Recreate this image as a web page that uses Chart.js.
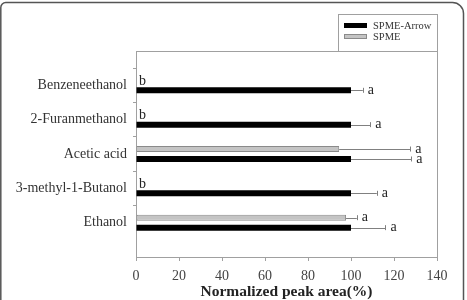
<!DOCTYPE html>
<html>
<head>
<meta charset="utf-8">
<script src="https://cdn.jsdelivr.net/npm/chart.js@4/dist/chart.umd.min.js"></script>
<style>
  html, body { margin: 0; padding: 0; background: #fff; }
  #wrap { width: 467px; height: 300px; position: relative; }
</style>
</head>
<body>
<div id="wrap"><canvas id="peakChart"></canvas></div>
<script>
// categories, top to bottom
const categories = ["Benzeneethanol", "2-Furanmethanol", "Acetic acid", "3-methyl-1-Butanol", "Ethanol"];

// SPME-Arrow (black)
const arrowValues = [100, 100, 100, 100, 100];
const arrowErrors = [5.5, 9, 28, 12, 16];
const arrowLetters = ["a", "a", "a", "a", "a"];

// SPME (grey)
const spmeValues = [0, 0, 94.5, 0, 97.7];
const spmeErrors = [0, 0, 33, 0, 5];
const spmeLetters = ["b", "b", "a", "b", "a"];

const xMin = 0, xMax = 140, xStep = 20;

const serif = "'Liberation Serif', 'Times New Roman', serif";

// blank slots top and bottom give the axis its extra space
const pad = (arr) => [null, ...arr, null];

// rounded frame around the whole figure
const framePlugin = {
  id: "frame",
  beforeDraw(chart) {
    const ctx = chart.ctx;
    ctx.save();
    ctx.strokeStyle = "#555";
    ctx.lineWidth = 1.5;
    const l = 0.8, t = 2.5, r = 463.5, b = 330, rr = 11, rl = 5;
    ctx.beginPath();
    ctx.moveTo(l, b);
    ctx.lineTo(l, t + rl);
    ctx.arcTo(l, t, l + rl, t, rl);
    ctx.lineTo(r - rr, t);
    ctx.arcTo(r, t, r, t + rr, rr);
    ctx.lineTo(r, b);
    ctx.stroke();
    ctx.restore();
  },
};

// plot box, error bars, letters, legend
const extrasPlugin = {
  id: "extras",
  afterDatasetsDraw(chart) {
    const ctx = chart.ctx;
    const area = chart.chartArea;
    const xs = chart.scales.x;
    ctx.save();

    // box round the plot
    ctx.strokeStyle = "#a0a0a0";
    ctx.lineWidth = 1;
    ctx.beginPath();
    ctx.moveTo(Math.round(area.left) + 0.5, Math.round(area.top) + 0.5);
    ctx.lineTo(Math.round(area.right) + 0.5, Math.round(area.top) + 0.5);
    ctx.lineTo(Math.round(area.right) + 0.5, Math.round(area.bottom) + 0.5);
    ctx.stroke();

    const sets = [
      { meta: chart.getDatasetMeta(0), vals: spmeValues, errs: spmeErrors, letters: spmeLetters },
      { meta: chart.getDatasetMeta(1), vals: arrowValues, errs: arrowErrors, letters: arrowLetters },
    ];
    ctx.font = "14px " + serif;
    ctx.textBaseline = "middle";
    ctx.textAlign = "left";
    sets.forEach((s) => {
      s.vals.forEach((v, i) => {
        const bar = s.meta.data[i + 1];
        if (!bar) return;
        const y = bar.y;
        const x0 = xs.getPixelForValue(v);
        const x1 = xs.getPixelForValue(v + s.errs[i]);
        if (s.errs[i] > 0) {
          ctx.strokeStyle = "#808080";
          ctx.beginPath();
          ctx.moveTo(x0, Math.round(y) + 0.5);
          ctx.lineTo(x1, Math.round(y) + 0.5);
          ctx.moveTo(Math.round(x1) + 0.5, y - 2.5);
          ctx.lineTo(Math.round(x1) + 0.5, y + 2.5);
          ctx.stroke();
        }
        ctx.fillStyle = "#222";
        const lx = v > 0 ? x1 + 5 : x0 + 3;
        ctx.fillText(s.letters[i], lx, y + (v > 0 ? 0 : 1));
      });
    });

    // legend box
    const lgL = 338.5, lgT = 14.5, lgR = Math.round(area.right) + 0.5, lgB = Math.round(area.top) + 0.5;
    ctx.strokeStyle = "#a0a0a0";
    ctx.strokeRect(lgL, lgT, lgR - lgL, lgB - lgT);
    const items = [chart.data.datasets[1], chart.data.datasets[0]];
    ctx.font = "10.5px " + serif;
    items.forEach((ds, k) => {
      const y = 23 + k * 11;
      ctx.fillStyle = ds.backgroundColor;
      ctx.fillRect(344, y, 23, 5);
      ctx.strokeStyle = ds.borderColor;
      ctx.strokeRect(344.5, y + 0.5, 22, 4);
      ctx.fillStyle = "#333";
      ctx.fillText(ds.label, 373, y + 3);
    });
    ctx.restore();
  },
};

new Chart(document.getElementById("peakChart"), {
  type: "bar",
  data: {
    labels: pad(categories),
    datasets: [
      {
        label: "SPME",
        data: pad(spmeValues),
        backgroundColor: "#c4c4c4",
        borderColor: "#8a8a8a",
        borderWidth: (c) => (c.raw ? 1 : 0),
        borderSkipped: false,
      },
      {
        label: "SPME-Arrow",
        data: pad(arrowValues),
        backgroundColor: "#000000",
        borderColor: "#000000",
        borderWidth: 0,
      },
    ],
  },
  options: {
    indexAxis: "y",
    responsive: true,
    maintainAspectRatio: false,
    animation: false,
    categoryPercentage: 0.58,
    barPercentage: 0.6,
    layout: { padding: { left: 0, top: 51, right: 30, bottom: 0 } },
    plugins: {
      legend: { display: false },
      tooltip: { enabled: false },
    },
    scales: {
      x: {
        type: "linear",
        min: xMin,
        max: xMax,
        ticks: {
          stepSize: xStep,
          color: "#444",
          font: { family: serif, size: 14 },
          padding: 7,
        },
        grid: { drawOnChartArea: false, drawTicks: true, tickLength: 4, color: "#a0a0a0" },
        border: { display: true, color: "#a0a0a0" },
        title: {
          display: true,
          text: "Normalized peak area(%)",
          color: "#222",
          font: { family: serif, size: 15.5, weight: "bold", lineHeight: 1 },
          padding: 0,
        },
        afterFit(scale) {
          scale.height = 43;
        },
      },
      y: {
        type: "category",
        offset: false,
        ticks: {
          color: "#333",
          font: { family: serif, size: 14 },
          padding: 6,
          autoSkip: false,
        },
        grid: {
          drawOnChartArea: false,
          drawTicks: true,
          tickLength: 3,
          color: (c) => (c.tick && c.tick.label ? "#a0a0a0" : "rgba(0,0,0,0)"),
        },
        border: { display: true, color: "#a0a0a0" },
        afterFit(scale) {
          scale.width = 136;
        },
      },
    },
  },
  plugins: [framePlugin, extrasPlugin],
});
</script>
</body>
</html>
